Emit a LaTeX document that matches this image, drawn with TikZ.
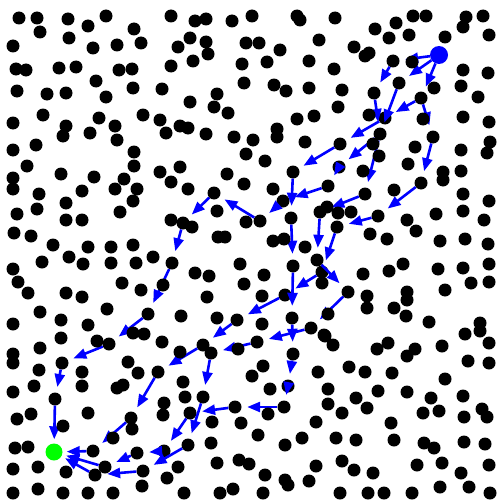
\documentclass[tikz,border=0pt]{standalone}
\usetikzlibrary{arrows.meta}
\begin{document}
\begin{tikzpicture}[x=1pt,y=-1pt,
 pn/.style={circle,fill=black,inner sep=0pt,minimum size=13pt},
 src/.style={circle,fill=blue,inner sep=0pt,minimum size=18pt},
 tgt/.style={circle,fill=green,inner sep=0pt,minimum size=17pt},
 bedge/.style={draw=blue,line width=2.6pt,-{Triangle[length=13pt,width=10pt]},shorten >=5.5pt}]
\useasboundingbox (0,0) rectangle (497,503);
\fill[white] (0,0) rectangle (497,503);
% path nodes
\node[src] (S) at (439,55) {};
\node[tgt] (T) at (54,452) {};
\foreach \n/\x/\y in {A/393/61,C/399/83,D/374/93,E/421/98,H/385/118,G/380/134,F/433/137,I/340/144,K/339/167,J/293/172,N/421/183,L/328/186,M/365/194,HH/283/201,U/320/212,O/378/216,Q1/291/218,FF/260/221,GG/214/193,II/183/223,P/337/227,V/317/260,JJ/172/263,Q2/293/266,W/322/272,X/348/292,Y/285/295,KK/148/314,BB/237/320,R/292/318,Z/311/328,AA/257/342,MM/109/344,CC/203/345,DD/211/353,R2/293/354,NN/62/363,EE/158/372,AB/288/386,RR/203/397,OO/55/399,AC/284/407,VV/235/407,SS/190/413,PP/131/418,TT/188/445,QQ/93/451,WW/137/453,UU/164/451,XX/105/467,YY/143/471,ZZ/95/475}
  \node[pn] (\n) at (\x,\y) {};
% edges
\foreach \a/\b in {S/A,S/C,S/E,A/D,C/G,D/G,E/H,E/F,H/I,G/M,F/N,I/J,G/K,K/L,L/HH,J/Q1,HH/FF,FF/GG,GG/II,II/JJ,JJ/KK,KK/MM,MM/NN,NN/OO,N/O,O/P,M/U,U/V,P/W,V/X,W/Y,Q1/Q2,Q2/R,R/R2,X/Z,Z/AA,Y/BB,BB/CC,AA/DD,CC/EE,EE/PP,PP/QQ,DD/RR,RR/TT,SS/UU,VV/SS,UU/WW,WW/XX,TT/YY,YY/ZZ,R2/AB,AB/AC,AC/VV}
  \draw[bedge] (\a) -- (\b);
\foreach \a in {OO,QQ,XX,ZZ}
  \draw[bedge,shorten >=4pt] (\a) -- (T);
% other dots
\foreach \x/\y in {19/18,37/18,40/32,68/19,88/26,106/16,134/29,13/46,69/38,93/48,117/45,141/43,16/69,26/70,59/68,76/67,119/70,132/69,96/81,17/91,47/94,66/93,106/97,133/88,162/89,43/115,13/123,66/126,63/136,99/118,90/133,115/126,117/140,143/115,160/120,166/133,13/150,36/145,134/152,27/166,134/166,
171/16,195/21,206/19,232/21,252/16,297/16,300/20,335/18,190/38,178/47,206/42,208/54,246/43,259/43,280/50,319/40,171/66,193/61,242/64,267/62,309/61,334/69,244/83,274/85,286/91,309/88,217/94,190/102,214/107,228/113,338/107,297/119,314/116,180/126,188/128,206/134,234/137,253/140,277/129,277/137,305/142,246/154,265/161,180/167,
375/29,396/23,413/16,426/16,389/38,409/35,445/37,466/17,463/27,483/16,489/35,354/47,365/56,369/53,412/62,463/70,488/73,434/88,342/90,478/97,461/86,369/115,423/119,463/117,489/122,373/144,415/147,461/150,490/142,487/153,379/156,408/164,363/171,443/172,443/180,461/171,
13/178,61/174,94/177,13/189,39/194,82/191,124/179,115/189,137/189,160/172,66/203,37/209,133/201,120/212,17/214,66/220,82/220,14/233,31/236,53/245,88/247,111/247,133/245,153/257,42/262,69/257,83/264,111/263,136/263,13/269,18/282,28/293,66/293,82/297,122/283,141/290,163/285,107/309,40/312,13/324,61/320,88/325,
171/182,188/189,227/174,244/184,273/189,217/211,171/220,192/227,246/222,327/207,218/237,225/237,273/241,284/239,305/247,240/264,195/273,209/276,264/275,322/283,244/284,207/297,262/296,328/314,181/316,217/318,262/324,324/335,
394/190,463/194,489/201,338/213,351/212,407/220,416/231,436/214,463/211,484/220,370/234,387/239,440/241,465/239,488/244,403/264,389/271,363/274,438/269,463/268,489/264,471/283,489/282,407/292,407/300,367/296,367/308,445/290,394/308,406/316,429/322,480/323,480/331,465/334,
61/338,40/348,13/354,13/363,39/370,82/372,97/341,133/333,144/334,162/342,128/362,138/373,13/392,34/386,82/386,117/388,123/385,164/403,163/415,17/419,31/414,88/413,132/429,63/426,113/438,15/448,28/447,38/467,66/472,13/469,167/478,13/493,38/489,63/493,88/493,113/493,142/486,
180/352,238/349,325/336,333/345,263/366,252/376,318/372,183/382,270/389,328/389,185/397,328/404,212/422,241/423,268/414,316/422,258/435,302/438,285/445,336/438,211/443,178/467,217/463,239/460,249/464,316/466,265/475,285/480,288/485,309/481,184/493,220/493,233/489,263/493,
377/349,388/343,407/356,415/349,442/346,489/343,468/361,489/363,349/367,365/372,392/373,445/379,378/391,407/392,356/398,367/408,342/413,431/398,463/396,423/413,439/411,482/409,487/417,464/417,391/423,356/440,394/440,424/443,434/448,464/442,485/444,342/461,354/470,373/473,417/465,442/463,461/473,489/465,340/493,368/493,384/493,412/493,440/487,469/487,490/493}
  \fill (\x,\y) circle (6.5);
\end{tikzpicture}
\end{document}
